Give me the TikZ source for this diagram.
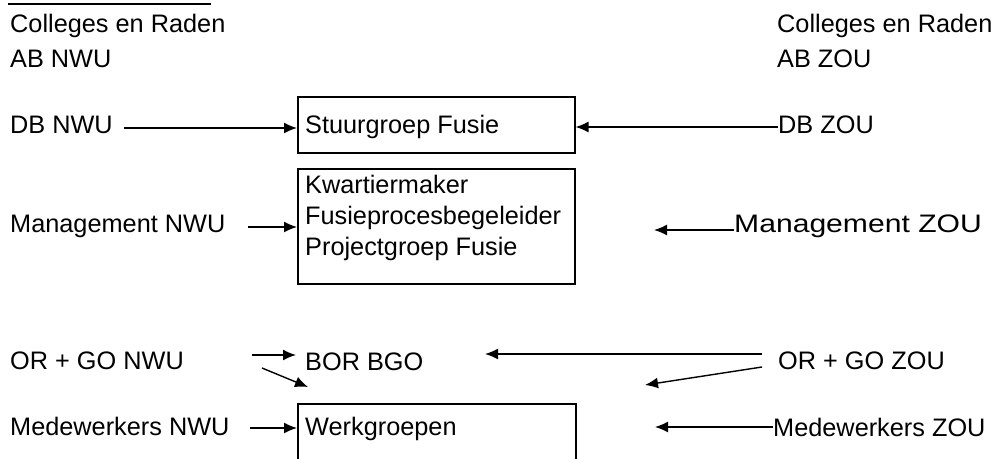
\documentclass[tikz,border=0pt]{standalone}
\usepackage{fontspec}
\setmainfont{Liberation Sans}
\usetikzlibrary{arrows.meta}
\begin{document}
\begin{tikzpicture}[x=1pt,y=-1pt,
  lbl/.style={inner sep=0pt, anchor=base west, font=\fontsize{25.3}{31}\selectfont},
  frame/.style={draw, line width=1.5pt, inner sep=0pt, anchor=north west},
  arr/.style={line width=1.4pt, -{Latex[length=13pt,width=11pt]}}]
\clip (0,0) rectangle (998,458);

% underline of the heading above the page edge
\draw[line width=2pt] (8,4) -- (211,4);

% boxes in the middle column
\node[frame, minimum width=277pt, minimum height=56pt]  (stuur) at (297,96)  {};
\node[frame, minimum width=277pt, minimum height=115pt] (proj)  at (297,168) {};
\node[frame, minimum width=278pt, minimum height=90pt]  (werk)  at (297,403) {};

% texts inside the boxes and BOR BGO
\node[lbl] (tstuur) at (305,133) {Stuurgroep Fusie};
\node[lbl] (tkw)    at (305,193) {Kwartiermaker};
\node[lbl] (tfpb)   at (305,224) {Fusieprocesbegeleider};
\node[lbl] (tpg)    at (305,255) {Projectgroep Fusie};
\node[lbl] (tbor)   at (305,370) {BOR BGO};
\node[lbl] (twerk)  at (305,435) {Werkgroepen};

% left column (NWU)
\node[lbl] (crn) at (10,32)  {Colleges en Raden};
\node[lbl] (abn) at (10,67)  {AB NWU};
\node[lbl] (dbn) at (10,133) {DB NWU};
\node[lbl] (mgn) at (10,232) {Management NWU};
\node[lbl] (orn) at (10,369) {OR + GO NWU};
\node[lbl] (mwn) at (10,435) {Medewerkers NWU};

% right column (ZOU)
\node[lbl] (crz) at (777,32)  {Colleges en Raden};
\node[lbl] (abz) at (777,67)  {AB ZOU};
\node[lbl] (dbz) at (778,133) {DB ZOU};
\node[lbl] (mgz) at (734,232) {\scalebox{1.19}[1]{Management ZOU}};
\node[lbl] (orz) at (778,369) {OR + GO ZOU};
\node[lbl] (mwz) at (773,436) {Medewerkers ZOU};

% arrow end points
\coordinate (l1) at (124,128);
\coordinate (l2) at (248,227);
\coordinate (l3) at (252,355);
\coordinate (l3e) at (296,355);
\coordinate (l4) at (262,368);
\coordinate (l4e) at (308,387);
\coordinate (l5) at (250,428);

\coordinate (r1) at ([shift={(0,-6)}]dbz.base west);
\coordinate (r2) at ([shift={(0,-2)}]mgz.base west);
\coordinate (r2e) at (654,230);
\coordinate (r3) at (762,354);
\coordinate (r3e) at (485,354);
\coordinate (r4) at (762,367);
\coordinate (r4e) at (645,385);
\coordinate (r5) at ([shift={(0,-9)}]mwz.base west);
\coordinate (r5e) at (655,427);

% connectors from the NWU side
\draw[arr] (l1) -- (l1 -| stuur.west);
\draw[arr] (l2) -- (l2 -| proj.west);
\draw[arr] (l3) -- (l3e);
\draw[arr] (l4) -- (l4e);
\draw[arr] (l5) -- (l5 -| werk.west);

% connectors from the ZOU side
\draw[arr] (r1) -- (r1 -| stuur.east);
\draw[arr] (r2) -- (r2e);
\draw[arr] (r3) -- (r3e);
\draw[arr] (r4) -- (r4e);
\draw[arr] (r5) -- (r5e);
\end{tikzpicture}
\end{document}
